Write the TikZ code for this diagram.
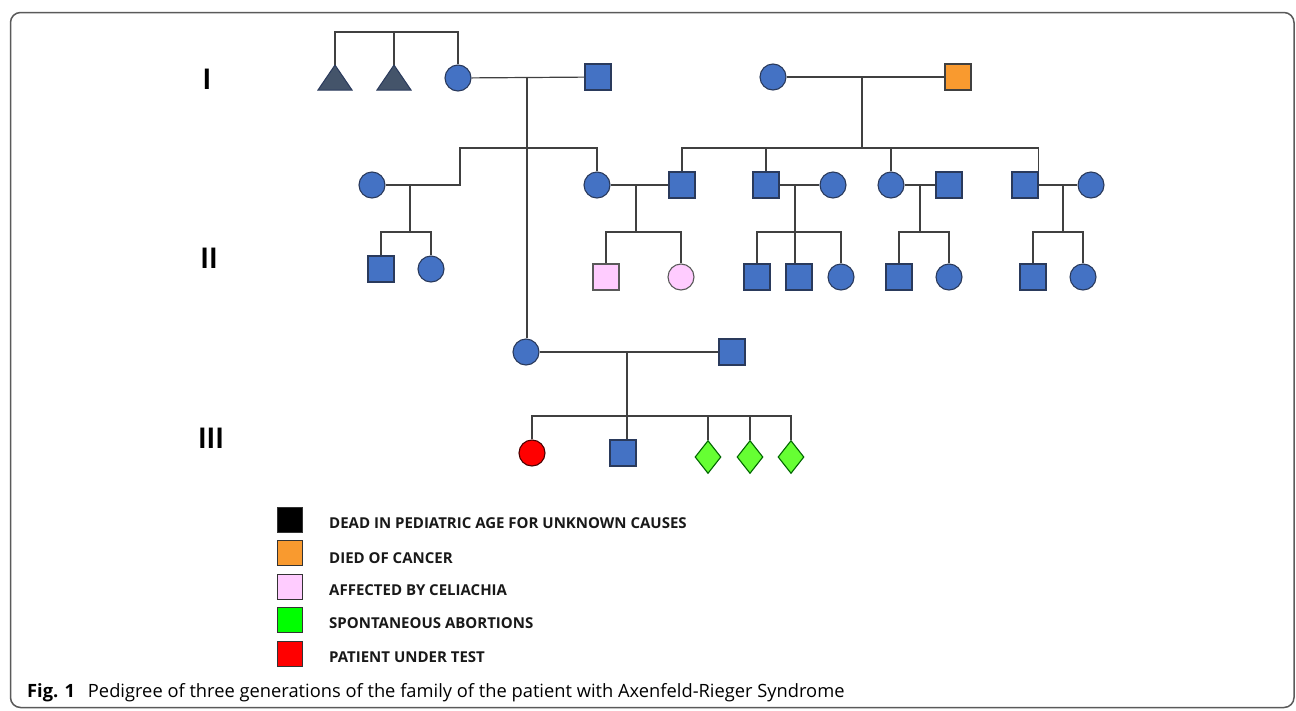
\documentclass[tikz,border=0pt]{standalone}
\usepackage{fontspec}
\setmainfont{Open Sans}
\usetikzlibrary{shapes.geometric}
\definecolor{pblue}{HTML}{4472C4}
\definecolor{pedge}{HTML}{2A3A5C}
\definecolor{pline}{HTML}{404040}
\definecolor{ptri}{HTML}{44546A}
\definecolor{porange}{HTML}{F99A2F}
\definecolor{ppink}{HTML}{FFCCFF}
\definecolor{plime}{HTML}{66FF33}
\definecolor{pgreen}{HTML}{00FF00}
\definecolor{pred}{HTML}{FF0000}
\definecolor{pframe}{HTML}{5A5A5A}
\begin{document}
\begin{tikzpicture}[x=1pt,y=-1pt,
 person/.style={draw=pedge, line width=1.1pt, inner sep=0pt, fill=pblue},
 male/.style={person, rectangle, minimum size=26pt},
 female/.style={person, circle, minimum size=26pt},
 abort/.style={person, diamond, fill=plime, draw=black!60!green, minimum width=26pt, minimum height=33pt},
 link/.style={draw=pline, line width=1.2pt},
 keybox/.style={rectangle, draw=black!80, line width=1pt, minimum size=25pt, inner sep=0pt},
 keytext/.style={anchor=west, font=\fontsize{15}{18}\selectfont\bfseries, inner sep=0pt, text=black!90},
 genlabel/.style={font=\fontsize{26}{30}\selectfont\bfseries, inner sep=0pt, yscale=1.1},
 tri/.style={fill=ptri, draw=pedge, line width=1pt, line join=miter},
]
\useasboundingbox (0,0) rectangle (1296,710);
\draw[pframe, line width=1.5pt, rounded corners=10pt] (10.5,12.5) rectangle (1294,707.5);

% generation labels
\node[genlabel] (g1) at (207,79) {I};
\node[genlabel] (g2) at (209,258) {II};
\node[genlabel] (g3) at (211,438) {III};

% ---------- Generation I ----------
\coordinate (t1) at (335,65);
\coordinate (t2) at (394,65);
\filldraw[tri] (t1) -- ++(17,25) -- ++(-34,0) -- cycle;
\filldraw[tri] (t2) -- ++(17,25) -- ++(-34,0) -- cycle;
\node[female] (c13) at (458,78) {};
\node[male] (s14) at (598,77) {};
\node[female] (c15) at (773,77) {};
\node[male, fill=porange, draw=black!75] (s16) at (958,77) {};

% ---------- Generation II ----------
\node[female] (c21) at (372,185) {};
\node[female] (c24) at (597,185) {};
\node[male] (s25) at (682,185) {};
\node[male] (s26) at (766,185) {};
\node[female] (c27) at (833,185) {};
\node[female] (c28) at (891,185) {};
\node[male] (s29) at (949,185) {};
\node[male] (s210) at (1025,185) {};
\node[female] (c211) at (1091,185) {};

\node[male] (s2a) at (381,269) {};
\node[female] (c2a) at (431,269) {};
\node[male, fill=ppink, draw=black!65] (s2b) at (606,277) {};
\node[female, fill=ppink, draw=black!65] (c2b) at (681,277) {};
\node[male] (s2c) at (757,277) {};
\node[male] (s2d) at (799,277) {};
\node[female] (c2e) at (841,277) {};
\node[male] (s2f) at (899,277) {};
\node[female] (c2f) at (949,277) {};
\node[male] (s2g) at (1033,277) {};
\node[female] (c2g) at (1083,277) {};

% ---------- Generation III ----------
\node[female] (c31) at (526,352) {};
\node[male] (s32) at (732,352) {};
\node[female, fill=pred, draw=black!70!red] (c3a) at (532,453) {};
\node[male] (s3b) at (623,453) {};
\node[abort] (a1) at (708,457) {};
\node[abort] (a2) at (750,457) {};
\node[abort] (a3) at (791,457) {};

% ---------- connectors ----------
\coordinate (sibI) at (394,32);
\draw[link] (t1) |- (sibI) -| (c13.north);
\draw[link] (t2) -- (sibI);
\draw[link] (c13) -- (s14);
\coordinate (m1) at (527,78);
\draw[link] (m1) -- (m1 |- c31.north);

\coordinate (j21) at (460,185);
\coordinate (k1) at (460,148);
\draw[link] (c21) -- (j21) -- (k1) -| (c24.north);
\coordinate (d21) at (410,185);
\coordinate (e21) at (410,232);
\draw[link] (d21) -- (e21);
\draw[link] (s2a.north) |- (e21) -| (c2a.north);

\draw[link] (c24) -- (s25);
\coordinate (d24) at (636,185);
\coordinate (e24) at (636,232);
\draw[link] (d24) -- (e24);
\draw[link] (s2b.north) |- (e24) -| (c2b.north);

\draw[link] (c15) -- (s16);
\coordinate (m2) at (862,77);
\coordinate (sb2) at (862,148);
\draw[link] (m2) -- (sb2);
\draw[link] (s25.north) |- (sb2) -| (s210.north east);
\draw[link] (sb2 -| s26.north) -- (s26.north);
\draw[link] (sb2 -| c28.north) -- (c28.north);

\draw[link] (s26) -- (c27);
\coordinate (d26) at (795,185);
\coordinate (e26) at (795,232);
\draw[link] (d26) -- (d26 |- s2d.north);
\draw[link] (s2c.north) |- (e26) -| (c2e.north);

\draw[link] (c28) -- (s29);
\coordinate (d28) at (920,185);
\coordinate (e28) at (920,232);
\draw[link] (d28) -- (e28);
\draw[link] (s2f.north) |- (e28) -| (c2f.north);

\draw[link] (s210) -- (c211);
\coordinate (d210) at (1063,185);
\coordinate (e210) at (1063,232);
\draw[link] (d210) -- (e210);
\draw[link] (s2g.north) |- (e210) -| (c2g.north);

\draw[link] (c31) -- (s32);
\coordinate (d31) at (627,352);
\coordinate (e31) at (627,416);
\draw[link] (d31) -- (d31 |- s3b.north);
\draw[link] (c3a.north) |- (e31) -| (a3.north);
\draw[link] (e31 -| a1.north) -- (a1.north);
\draw[link] (e31 -| a2.north) -- (a2.north);

% ---------- legend ----------
\node[keybox, fill=black] (kb1) at (289.5,520) {};
\node[keybox, fill=porange] (kb2) at (289.5,553) {};
\node[keybox, fill=ppink] (kb3) at (289.5,587) {};
\node[keybox, fill=pgreen] (kb4) at (289.5,620) {};
\node[keybox, fill=pred] (kb5) at (289.5,654) {};
\node[keytext] (kt1) at (329,523) {DEAD IN PEDIATRIC AGE FOR UNKNOWN CAUSES};
\node[keytext] (kt2) at (329,558) {DIED OF CANCER};
\node[keytext] (kt3) at (329,590) {AFFECTED BY CELIACHIA};
\node[keytext] (kt4) at (329,623) {SPONTANEOUS ABORTIONS};
\node[keytext] (kt5) at (329,657) {PATIENT UNDER TEST};

% ---------- caption ----------
\node[anchor=base west, inner sep=0pt] (cap) at (27,697)
 {\fontsize{18.3}{22}\selectfont\textbf{Fig. 1}\hspace{0.7em}Pedigree of three generations of the family of the patient with Axenfeld-Rieger Syndrome};
\end{tikzpicture}
\end{document}
